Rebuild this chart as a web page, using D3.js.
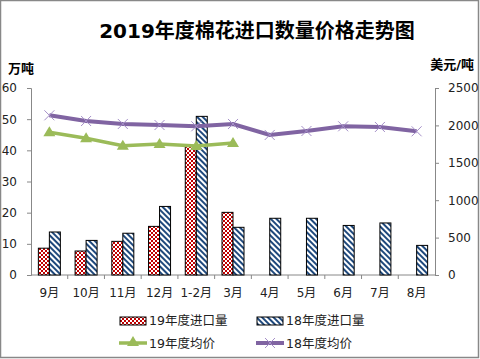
<!DOCTYPE html>
<html>
<head>
<meta charset="utf-8">
<script src="https://cdn.jsdelivr.net/npm/d3@7"></script>
<style>
  body { margin: 0; background: #fff; }
  svg text { font-family: "DejaVu Sans", "Noto Sans CJK SC", sans-serif; fill: #222; }
</style>
</head>
<body>
<div id="chart"></div>
<script>
// data
var months = ["9月", "10月", "11月", "12月", "1-2月", "3月", "4月", "5月", "6月", "7月", "8月"];
var import19 = [8.6, 7.7, 10.8, 15.6, 41.4, 20.1, null, null, null, null, null];
var import18 = [13.8, 11.1, 13.4, 22.0, 50.9, 15.3, 18.2, 18.2, 15.9, 16.7, 9.5];
var price19 = [1908, 1827, 1729, 1751, 1725, 1765];
var price18 = [2135, 2059, 2019, 2005, 1988, 2019, 1872, 1925, 1988, 1979, 1921];
var leftTicks = [0, 10, 20, 30, 40, 50, 60];
var rightTicks = [0, 500, 1000, 1500, 2000, 2500];

var svgWidth = 480;
var svgHeight = 359;

var margin = { top: 88, right: 45, bottom: 84, left: 31 };
var width = svgWidth - margin.left - margin.right;
var height = svgHeight - margin.top - margin.bottom;

var svg = d3.select("#chart")
  .append("svg")
  .attr("width", svgWidth)
  .attr("height", svgHeight);

// patterns for the bars
var defs = svg.append("defs");
var checker = defs.append("pattern")
  .attr("id", "checker")
  .attr("width", 4).attr("height", 4)
  .attr("patternUnits", "userSpaceOnUse");
checker.append("rect").attr("width", 4).attr("height", 4).attr("fill", "#fff");
checker.append("rect").attr("width", 2).attr("height", 2).attr("fill", "#c00000");
checker.append("rect").attr("x", 2).attr("y", 2).attr("width", 2).attr("height", 2).attr("fill", "#c00000");

var stripes = defs.append("pattern")
  .attr("id", "stripes")
  .attr("width", 4).attr("height", 4)
  .attr("patternUnits", "userSpaceOnUse")
  .attr("patternTransform", "rotate(-45)");
stripes.append("rect").attr("width", 4).attr("height", 4).attr("fill", "#fff");
stripes.append("rect").attr("width", 2).attr("height", 4).attr("fill", "#1f497d");

// outer border
svg.append("rect")
  .attr("x", 0.5).attr("y", 0.5)
  .attr("width", 478).attr("height", 357)
  .attr("fill", "none")
  .attr("stroke", "#888")
  .attr("stroke-width", 1.5);

// title
svg.append("text")
  .attr("x", 257).attr("y", 38)
  .attr("text-anchor", "middle")
  .attr("font-size", "20px")
  .attr("font-weight", "bold")
  .style("fill", "#000")
  .text("2019年度棉花进口数量价格走势图");

svg.append("text")
  .attr("x", 8).attr("y", 73)
  .attr("font-size", "13px").attr("font-weight", "bold")
  .style("fill", "#000")
  .text("万吨");

svg.append("text")
  .attr("x", 474).attr("y", 69)
  .attr("text-anchor", "end")
  .attr("font-size", "13px").attr("font-weight", "bold")
  .style("fill", "#000")
  .text("美元/吨");

var chartGroup = svg.append("g")
  .attr("transform", `translate(${margin.left}, ${margin.top})`);

// scales
var xScale = d3.scaleBand().domain(months).range([0, width]);
var yLeft = d3.scaleLinear().domain([0, 60]).range([height, 0]);
var yRight = d3.scaleLinear().domain([0, 2500]).range([height, 0]);
var barW = 11;

// axes
var leftAxis = d3.axisLeft(yLeft).tickValues(leftTicks).tickSize(4).tickPadding(10);
var rightAxis = d3.axisRight(yRight).tickValues(rightTicks).tickFormat(d3.format("d")).tickSize(4).tickPadding(9);

var gl = chartGroup.append("g").call(leftAxis);
var gr = chartGroup.append("g").attr("transform", `translate(${width},0)`).call(rightAxis);
[gl, gr].forEach(function(g) {
  g.select(".domain").attr("stroke", "#888");
  g.selectAll(".tick line").attr("stroke", "#888");
  g.selectAll("text").attr("font-size", "12px").style("font-family", "DejaVu Sans").style("fill", "#222");
});

// x axis line with ticks between categories
var gx = chartGroup.append("g").attr("transform", `translate(0,${height})`);
gx.append("line").attr("x1", 0).attr("x2", width).attr("stroke", "#888");
gx.selectAll(".sep")
  .data(months.slice(1))
  .enter().append("line")
  .attr("x1", d => xScale(d)).attr("x2", d => xScale(d))
  .attr("y1", 0).attr("y2", 4)
  .attr("stroke", "#888");
gx.selectAll(".lab")
  .data(months)
  .enter().append("text")
  .attr("x", d => xScale(d) + xScale.bandwidth() / 2)
  .attr("y", 22)
  .attr("text-anchor", "middle")
  .attr("font-size", "12px")
  .text(d => d);

// bars
chartGroup.selectAll(".bar19")
  .data(months.map((m, i) => ({ m: m, v: import19[i] })).filter(d => d.v != null))
  .enter().append("rect")
  .attr("x", d => xScale(d.m) + xScale.bandwidth() / 2 - barW)
  .attr("y", d => yLeft(d.v))
  .attr("width", barW)
  .attr("height", d => height - yLeft(d.v))
  .attr("fill", "url(#checker)")
  .attr("stroke", "#000").attr("stroke-width", 1);

chartGroup.selectAll(".bar18")
  .data(months.map((m, i) => ({ m: m, v: import18[i] })))
  .enter().append("rect")
  .attr("x", d => xScale(d.m) + xScale.bandwidth() / 2)
  .attr("y", d => yLeft(d.v))
  .attr("width", barW)
  .attr("height", d => height - yLeft(d.v))
  .attr("fill", "url(#stripes)")
  .attr("stroke", "#000").attr("stroke-width", 1);

// lines
var cx = m => xScale(m) + xScale.bandwidth() / 2;
var line = d3.line().x(d => cx(d.m)).y(d => yRight(d.v));

var p18 = months.map((m, i) => ({ m: m, v: price18[i] }));
var p19 = price19.map((v, i) => ({ m: months[i], v: v }));

chartGroup.append("path")
  .datum(p18)
  .attr("d", line)
  .attr("fill", "none")
  .attr("stroke", "#8064a2")
  .attr("stroke-width", 4);

chartGroup.selectAll(".xm")
  .data(p18)
  .enter().append("path")
  .attr("transform", d => `translate(${cx(d.m)},${yRight(d.v)})`)
  .attr("d", "M-5,-5L5,5M-5,5L5,-5")
  .attr("stroke", "#a58fc8")
  .attr("stroke-width", 1);

chartGroup.append("path")
  .datum(p19)
  .attr("d", line)
  .attr("fill", "none")
  .attr("stroke", "#9bbb59")
  .attr("stroke-width", 3.5);

chartGroup.selectAll(".tri")
  .data(p19)
  .enter().append("path")
  .attr("transform", d => `translate(${cx(d.m)},${yRight(d.v)})`)
  .attr("d", "M0,-6L6,4L-6,4Z")
  .attr("fill", "#9bbb59");

// legend
var legend = svg.append("g");
legend.append("rect").attr("x", 120).attr("y", 317).attr("width", 26).attr("height", 8)
  .attr("fill", "url(#checker)").attr("stroke", "#000");
legend.append("text").attr("x", 149).attr("y", 325).attr("font-size", "12.5px").text("19年度进口量");
legend.append("rect").attr("x", 257).attr("y", 317).attr("width", 26).attr("height", 8)
  .attr("fill", "url(#stripes)").attr("stroke", "#000");
legend.append("text").attr("x", 286).attr("y", 325).attr("font-size", "12.5px").text("18年度进口量");

legend.append("line").attr("x1", 119).attr("x2", 147).attr("y1", 343).attr("y2", 343)
  .attr("stroke", "#9bbb59").attr("stroke-width", 3.5);
legend.append("path").attr("transform", "translate(133,342)").attr("d", "M0,-6L6,4L-6,4Z").attr("fill", "#9bbb59");
legend.append("text").attr("x", 149).attr("y", 348).attr("font-size", "12.5px").text("19年度均价");

legend.append("line").attr("x1", 256).attr("x2", 284).attr("y1", 343).attr("y2", 343)
  .attr("stroke", "#8064a2").attr("stroke-width", 4);
legend.append("path").attr("transform", "translate(270,343)").attr("d", "M-5,-5L5,5M-5,5L5,-5")
  .attr("stroke", "#a58fc8").attr("stroke-width", 1);
legend.append("text").attr("x", 286).attr("y", 348).attr("font-size", "12.5px").text("18年度均价");
</script>
</body>
</html>
